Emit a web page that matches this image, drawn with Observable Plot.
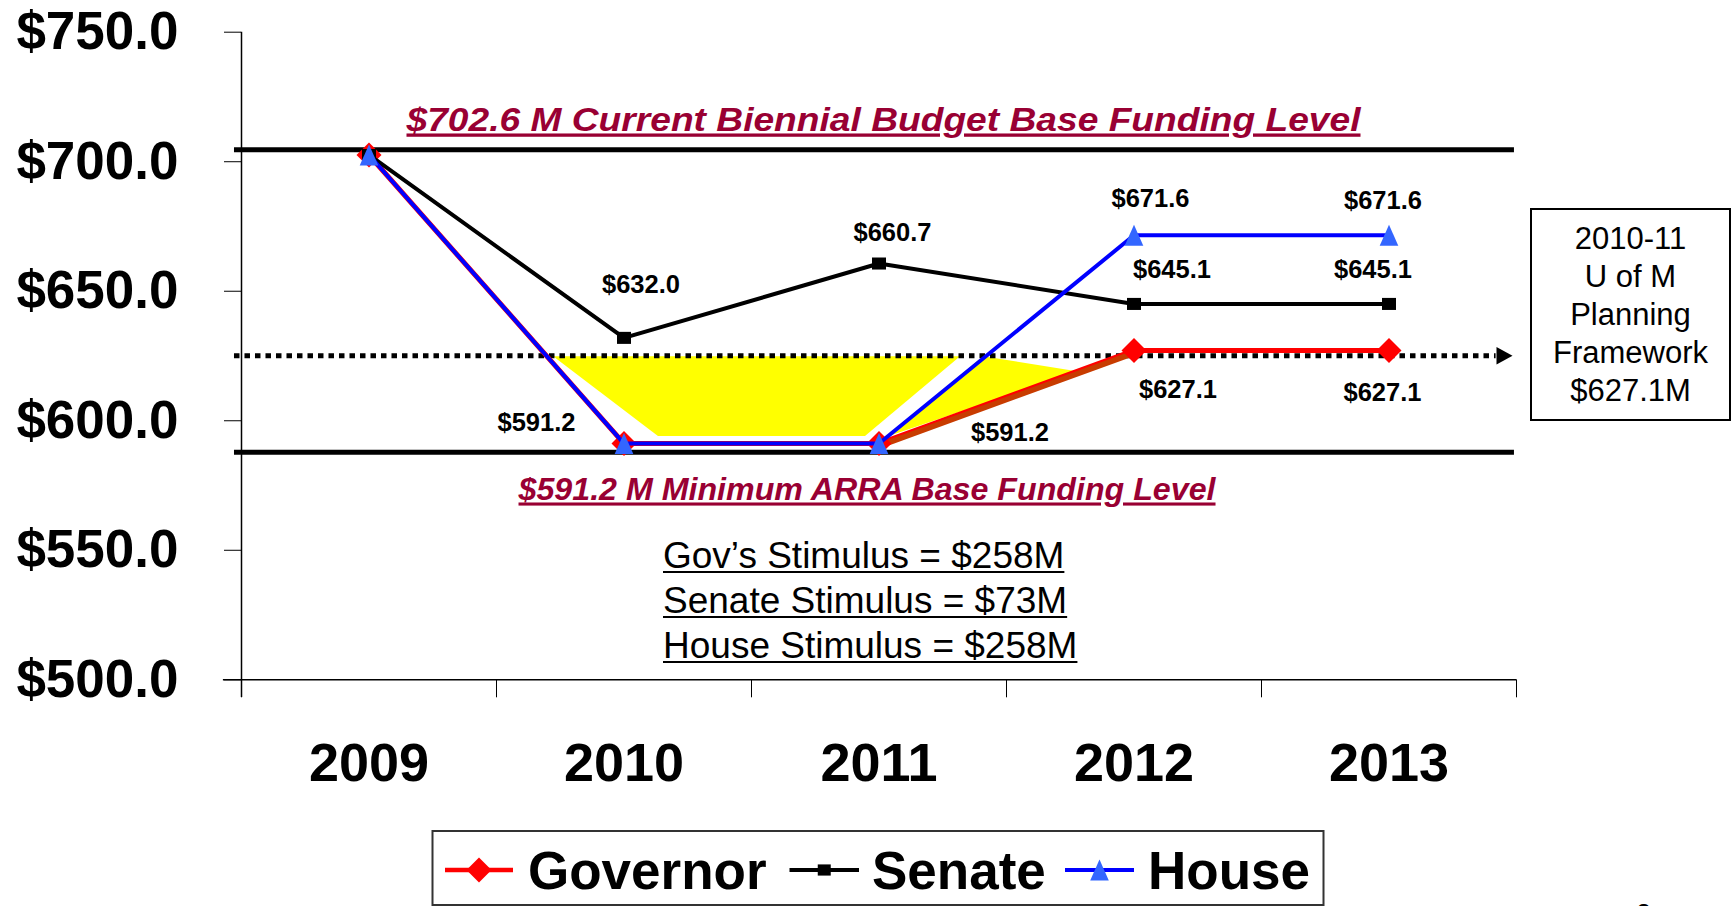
<!DOCTYPE html>
<html>
<head>
<meta charset="utf-8">
<script src="https://cdn.jsdelivr.net/npm/d3@7"></script>
<script src="https://cdn.jsdelivr.net/npm/@observablehq/plot@0.6"></script>
<style>
  html, body { margin: 0; padding: 0; background: #fff; }
  body { width: 1733px; height: 906px; overflow: hidden; position: relative;
         font-family: "Liberation Sans", Arial, sans-serif; color: #000; }
  #chart { position: absolute; left: 0; top: 0; }
  #stim { position: absolute; left: 663px; top: 532.5px; font-size: 37px; line-height: 45px;
          white-space: nowrap; }
  #stim div { text-decoration: underline; text-decoration-thickness: 2px; text-underline-offset: 3px; }
  #box { position: absolute; left: 1530px; top: 207.7px; width: 201px; height: 213px;
         box-sizing: border-box; border: 2px solid #000; text-align: center;
         font-size: 31px; line-height: 38px; padding-top: 10.4px; background: #fff; }
  #legend { position: absolute; left: 431px; top: 830px; }
  #pageno { position: absolute; left: 1637px; top: 901px; font-size: 24px; line-height: 24px; font-weight: bold; }
</style>
</head>
<body>
<div id="chart"></div>
<div id="stim"></div>
<div id="box"></div>
<div id="legend"></div>
<div id="pageno">8</div>
<script>
// ---------- data ----------
const years = [2009, 2010, 2011, 2012, 2013];
const governor = [702.6, 591.2, 591.2, 627.1, 627.1];
const senate = [702.6, 632.0, 660.7, 645.1, 645.1];
const house = [702.6, 591.2, 591.2, 671.6, 671.6];
const yTicks = [500, 550, 600, 650, 700, 750];
const yearBounds = [2008.5, 2009.5, 2010.5, 2011.5, 2012.5, 2013.5];
const refLevels = [704.6, 587.8];           // where the two base-funding lines are drawn
const refLabels = ["$702.6 M Current Biennial Budget Base Funding Level",
                   "$591.2 M Minimum ARRA Base Funding Level"];
const frameworkLevel = 625.1;               // dotted planning-framework line
const labeledYears = { governor: [2010, 2011, 2012, 2013], senate: [2010, 2011, 2012, 2013], house: [2012, 2013] };
// yellow gap shading (data units)
const gapA_x = [2009.724, 2010.135, 2010.947, 2011.32];
const gapA_low = [624.7, 593.9, 593.9, 624.7];
const gapA_high = [624.7, 624.7, 624.7, 624.7];
const gapB_x = [2011.037, 2011.41, 2011.778];
const gapB_low = [593.8, 606.3, 618.9];
const gapB_high = [593.8, 624.7, 618.9];
const stimulus = ["Gov\u2019s Stimulus = $258M", "Senate Stimulus = $73M", "House Stimulus = $258M"];
const boxLines = ["2010-11", "U of M", "Planning", "Framework", "$627.1M"];
const legendNames = ["Governor", "Senate", "House"];

// ---------- helpers ----------
const series = vals => years.map((year, i) => ({year, value: vals[i]}));
const gov = series(governor), sen = series(senate), hou = series(house);
const gapA = gapA_x.map((x, i) => ({x, low: gapA_low[i], high: gapA_high[i]}));
const gapB = gapB_x.map((x, i) => ({x, low: gapB_low[i], high: gapB_high[i]}));

const sym = f => ({draw(c, size) { const r = Math.sqrt(size / Math.PI); f(c, r); }});
const diamond = sym((c, r) => { c.moveTo(0, -r); c.lineTo(r, 0); c.lineTo(0, r); c.lineTo(-r, 0); c.closePath(); });
const square = sym((c, r) => { c.moveTo(-r, -0.86 * r); c.lineTo(r, -0.86 * r); c.lineTo(r, 0.86 * r); c.lineTo(-r, 0.86 * r); c.closePath(); });
const triangle = sym((c, r) => { c.moveTo(0, -1.05 * r); c.lineTo(0.93 * r, 1.05 * r); c.lineTo(-0.93 * r, 1.05 * r); c.closePath(); });
const arrowHead = sym((c, r) => { c.moveTo(r, 0); c.lineTo(-r, -1.1 * r); c.lineTo(-r, 1.1 * r); c.closePath(); });

// label offsets (layout)
const labelOffsets = {
  governor: {2010: [-87.5, -21], 2011: [131, -11], 2012: [44, 39], 2013: [-6.5, 42]},
  senate:   {2010: [17, -53.4], 2011: [13.5, -31], 2012: [38, -34.4], 2013: [-16, -34.4]},
  house:    {2012: [16.5, -36], 2013: [-6, -34]}
};
const seriesData = {governor: gov, senate: sen, house: hou};
const labelMarks = [];
for (const key of Object.keys(labeledYears)) {
  for (const yr of labeledYears[key]) {
    const d = seriesData[key].find(p => p.year === yr);
    const [dx, dy] = labelOffsets[key][yr];
    labelMarks.push(Plot.text([d], {x: "year", y: "value", text: p => "$" + p.value.toFixed(1),
      dx, dy, fontSize: 25.5, fontWeight: "bold", fill: "black"}));
  }
}

const plot = Plot.plot({
  width: 1733, height: 830,
  marginLeft: 241, marginRight: 217, marginTop: 31.7, marginBottom: 150.7,
  x: {domain: [2008.5, 2013.5]},
  y: {domain: [500, 750]},
  style: {fontFamily: "'Liberation Sans', Arial, sans-serif", color: "black", background: "white", overflow: "visible"},
  marks: [
    Plot.areaY(gapA, {x: "x", y1: "low", y2: "high", fill: "#FFFF00", curve: "linear"}),
    Plot.areaY(gapB, {x: "x", y1: "low", y2: "high", fill: "#FFFF00", curve: "linear"}),
    Plot.axisY({ticks: yTicks, tickSize: 17, tickPadding: 46, tickFormat: d => "$" + d.toFixed(1),
                fontSize: 53, fontWeight: "bold", label: null}),
    Plot.axisX({ticks: yearBounds, tickSize: 18, tickFormat: () => "", label: null}),
    Plot.axisX({ticks: years, tickSize: 0, tickPadding: 63.3, tickFormat: d => String(d),
                fontSize: 54, fontWeight: "bold", label: null}),
    Plot.ruleX([2008.5], {y1: 750, y2: 493.2, stroke: "black", strokeWidth: 1.5}),
    Plot.ruleY([500], {x1: 2008.429, x2: 2013.5, stroke: "black", strokeWidth: 1.5}),
    Plot.ruleY(refLevels, {x1: 2008.4725, x2: 2013.492, stroke: "black", strokeWidth: 5}),
    Plot.ruleY([frameworkLevel], {x1: 2008.4725, x2: 2013.42, stroke: "black", strokeWidth: 5, strokeDasharray: "5.5,5"}),
    Plot.dot([frameworkLevel], {x: 2013.453, y: d => d, symbol: arrowHead, r: 8, fill: "black", stroke: "none"}),
    Plot.text([refLabels[0]], {x: 2011, y: refLevels[0], text: d => d, dx: 4.5, dy: -28.9,
      fontSize: 33, fontWeight: "bold", fontStyle: "italic", fill: "#990033"}),
    Plot.text([refLabels[1]], {x: 2011, y: refLevels[1], text: d => d, dx: -12, dy: 38.2,
      fontSize: 31, fontWeight: "bold", fontStyle: "italic", fill: "#990033"}),
    Plot.line(gov, {x: "year", y: "value", stroke: "#FF0000", strokeWidth: 5}),
    Plot.line(gov.slice(2, 4), {x: "year", y: "value", stroke: "#C83C00", strokeWidth: 5.5, dy: 2.5}),
    Plot.dot(gov, {x: "year", y: "value", symbol: diamond, r: 12.5, fill: "#FF0000", stroke: "none"}),
    Plot.line(sen, {x: "year", y: "value", stroke: "black", strokeWidth: 4}),
    Plot.dot(sen, {x: "year", y: "value", symbol: square, r: 7, fill: "black", stroke: "none"}),
    Plot.line(hou, {x: "year", y: "value", stroke: "#0000FF", strokeWidth: 4}),
    Plot.dot(hou, {x: "year", y: "value", symbol: triangle, r: 10, fill: "#3366FF", stroke: "none"}),
    ...labelMarks
  ]
});
document.getElementById("chart").appendChild(plot);

// underline + stretch the two funding-level titles
plot.querySelectorAll("text").forEach(t => {
  const s = t.textContent;
  if (s === refLabels[0] || s === refLabels[1]) {
    t.style.textDecoration = "underline";
    t.setAttribute("textLength", s === refLabels[0] ? 954 : 697);
    t.setAttribute("lengthAdjust", "spacingAndGlyphs");
  }
});

// stimulus notes
d3.select("#stim").selectAll("div").data(stimulus).join("div").text(d => d);
// planning framework box
d3.select("#box").selectAll("div").data(boxLines).join("div").text(d => d);

// legend
const lg = d3.select("#legend").append("svg").attr("width", 894).attr("height", 76)
  .style("font-family", "'Liberation Sans', Arial, sans-serif");
lg.append("rect").attr("x", 1.5).attr("y", 1).attr("width", 891).attr("height", 74)
  .attr("fill", "white").attr("stroke", "#333").attr("stroke-width", 2);
const legendLayout = [
  {x0: 14, x1: 82, text: 97, color: "#FF0000", mark: "#FF0000", sym: diamond, r: 12.5, w: 4.5},
  {x0: 358.5, x1: 428, text: 441, color: "#000000", mark: "#000000", sym: square, r: 6.5, w: 4},
  {x0: 634, x1: 703, text: 717, color: "#0000FF", mark: "#3366FF", sym: triangle, r: 10, w: 4}
];
legendNames.forEach((name, i) => {
  const L = legendLayout[i];
  lg.append("line").attr("x1", L.x0).attr("x2", L.x1).attr("y1", 40).attr("y2", 40)
    .attr("stroke", L.color).attr("stroke-width", L.w);
  lg.append("path").attr("transform", `translate(${(L.x0 + L.x1) / 2},40)`)
    .attr("d", d3.symbol().type(L.sym).size(Math.PI * L.r * L.r)()).attr("fill", L.mark);
  lg.append("text").attr("x", L.text).attr("y", 59).attr("font-size", 53).attr("font-weight", "bold")
    .attr("fill", "black").text(name);
});
</script>
</body>
</html>
